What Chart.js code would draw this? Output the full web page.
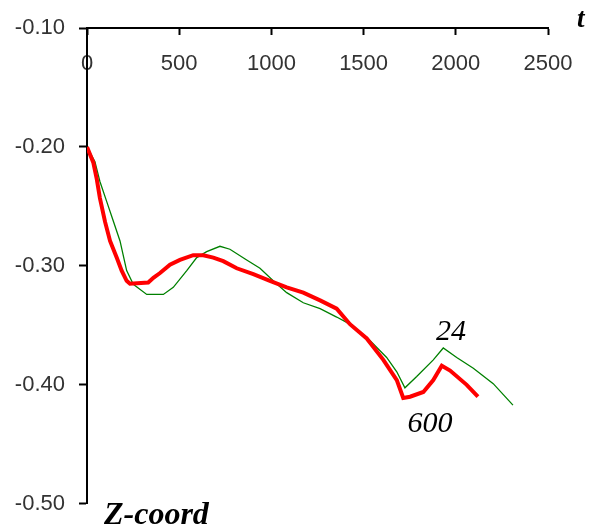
<!DOCTYPE html>
<html>
<head>
<meta charset="utf-8">
<script src="https://cdn.jsdelivr.net/npm/chart.js@4"></script>
<style>
    body { margin: 0; background: #fff; }
    #chart { display: block; }
</style>
</head>
<body>
<canvas id="chart" width="600" height="531"></canvas>
<script>
// curve "600" (thick red)
const t600 = [0, 34, 53, 70, 98, 125, 161, 188, 215, 233, 332, 360, 396, 450, 504, 576, 631, 685, 739, 812, 902, 992, 1083, 1173, 1264, 1354, 1426, 1517, 1607, 1680, 1715, 1752, 1824, 1878, 1924, 1969, 2059, 2120];
const z600 = [-0.200, -0.213, -0.227, -0.243, -0.263, -0.279, -0.293, -0.304, -0.3125, -0.315, -0.314, -0.310, -0.306, -0.299, -0.295, -0.291, -0.291, -0.293, -0.296, -0.302, -0.307, -0.3125, -0.318, -0.3225, -0.329, -0.336, -0.349, -0.361, -0.379, -0.396, -0.411, -0.410, -0.406, -0.396, -0.384, -0.388, -0.400, -0.410];

// curve "24" (thin green)
const t24 = [0, 43, 70, 107, 143, 179, 215, 251, 324, 414, 468, 541, 595, 649, 721, 775, 866, 938, 1010, 1083, 1173, 1264, 1354, 1408, 1517, 1625, 1680, 1724, 1788, 1878, 1932, 2005, 2095, 2203, 2310];
const z24 = [-0.200, -0.2125, -0.229, -0.246, -0.2625, -0.279, -0.304, -0.3155, -0.324, -0.324, -0.318, -0.304, -0.293, -0.288, -0.2835, -0.286, -0.295, -0.302, -0.3125, -0.3225, -0.331, -0.336, -0.343, -0.3475, -0.360, -0.377, -0.389, -0.4025, -0.393, -0.379, -0.369, -0.377, -0.386, -0.399, -0.417];

const xMin = 0, xMax = 2500, xStep = 500;
const yMin = -0.5, yMax = -0.1, yStep = 0.1;

function toPoints(xs, ys) {
    return xs.map((x, i) => ({ x: x, y: ys[i] }));
}

const labelsPlugin = {
    id: 'labels',
    afterDraw(chart) {
        const ctx = chart.ctx;
        ctx.save();
        ctx.fillStyle = '#000';
        ctx.textBaseline = 'alphabetic';
        ctx.font = 'bold italic 32px "Liberation Serif"';
        ctx.textAlign = 'left';
        ctx.fillText('Z-coord', 104, 524);
        ctx.font = 'bold italic 27px "Liberation Serif"';
        ctx.fillText('t', 577, 27);
        ctx.font = 'italic 30px "Liberation Serif"';
        ctx.textAlign = 'center';
        ctx.fillText('24', 451, 340);
        ctx.fillText('600', 430, 432);
        ctx.restore();
    }
};

new Chart(document.getElementById('chart'), {
    type: 'line',
    data: {
        datasets: [
            {
                label: '600',
                data: toPoints(t600, z600),
                borderColor: '#ff0000',
                borderWidth: 4,
                pointRadius: 0,
                tension: 0,
            },
            {
                label: '24',
                data: toPoints(t24, z24),
                borderColor: '#008000',
                borderWidth: 1.3,
                pointRadius: 0,
                tension: 0,
            },
        ]
    },
    options: {
        responsive: false,
        animation: false,
        layout: { padding: { left: 0, right: 52, top: 28, bottom: 23 } },
        plugins: {
            legend: { display: false },
            tooltip: { enabled: false },
        },
        scales: {
            x: {
                type: 'linear',
                position: { y: -0.1 },
                min: xMin,
                max: xMax,
                ticks: {
                    stepSize: xStep,
                    padding: 17,
                    color: '#333',
                    font: { family: 'Liberation Sans', size: 22 },
                    callback: v => String(v),
                },
                grid: {
                    drawOnChartArea: false,
                    drawTicks: true,
                    tickLength: 6,
                    tickColor: '#000',
                    tickWidth: 2,
                },
                border: { color: '#000', width: 2 },
            },
            y: {
                type: 'linear',
                position: 'left',
                min: yMin,
                max: yMax,
                afterFit(scale) { scale.width = 87; },
                ticks: {
                    stepSize: yStep,
                    padding: 14,
                    color: '#333',
                    font: { family: 'Liberation Sans', size: 22 },
                    callback: v => v.toFixed(2),
                },
                grid: {
                    drawOnChartArea: false,
                    drawTicks: true,
                    tickLength: 8,
                    tickColor: '#000',
                    tickWidth: 2,
                },
                border: { color: '#000', width: 2 },
            },
        },
    },
    plugins: [labelsPlugin],
});
</script>
</body>
</html>
